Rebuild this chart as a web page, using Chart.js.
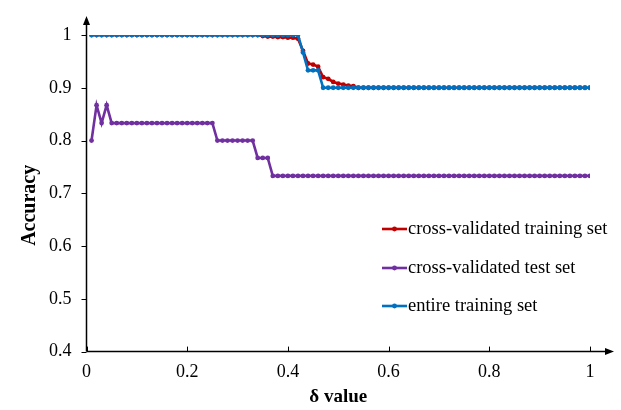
<!DOCTYPE html>
<html>
<head>
<meta charset="utf-8">
<script src="https://cdn.jsdelivr.net/npm/chart.js@4.4.1/dist/chart.umd.min.js"></script>
<style>
  html, body { margin: 0; padding: 0; background: #fff; }
  #wrap { width: 621px; height: 410px; position: relative; }
</style>
</head>
<body>
<div id="wrap"><canvas id="acc"></canvas></div>
<script>
// delta values (x)
var deltas = [
  0.01, 0.02, 0.03, 0.04, 0.05, 0.06, 0.07, 0.08, 0.09, 0.10,
  0.11, 0.12, 0.13, 0.14, 0.15, 0.16, 0.17, 0.18, 0.19, 0.20,
  0.21, 0.22, 0.23, 0.24, 0.25, 0.26, 0.27, 0.28, 0.29, 0.30,
  0.31, 0.32, 0.33, 0.34, 0.35, 0.36, 0.37, 0.38, 0.39, 0.40,
  0.41, 0.42, 0.43, 0.44, 0.45, 0.46, 0.47, 0.48, 0.49, 0.50,
  0.51, 0.52, 0.53, 0.54, 0.55, 0.56, 0.57, 0.58, 0.59, 0.60,
  0.61, 0.62, 0.63, 0.64, 0.65, 0.66, 0.67, 0.68, 0.69, 0.70,
  0.71, 0.72, 0.73, 0.74, 0.75, 0.76, 0.77, 0.78, 0.79, 0.80,
  0.81, 0.82, 0.83, 0.84, 0.85, 0.86, 0.87, 0.88, 0.89, 0.90,
  0.91, 0.92, 0.93, 0.94, 0.95, 0.96, 0.97, 0.98, 0.99, 1.00
];

var cvTrain = [
  1, 1, 1, 1, 1, 1, 1, 1, 1, 1,
  1, 1, 1, 1, 1, 1, 1, 1, 1, 1,
  1, 1, 1, 1, 1, 1, 1, 1, 1, 1,
  1, 1, 1, 1, 0.998, 0.997, 0.997, 0.996, 0.996, 0.995,
  0.995, 0.993, 0.97, 0.946, 0.944, 0.94, 0.92, 0.917, 0.911, 0.908,
  0.906, 0.904, 0.903, 0.9, 0.9, 0.9, 0.9, 0.9, 0.9, 0.9,
  0.9, 0.9, 0.9, 0.9, 0.9, 0.9, 0.9, 0.9, 0.9, 0.9,
  0.9, 0.9, 0.9, 0.9, 0.9, 0.9, 0.9, 0.9, 0.9, 0.9,
  0.9, 0.9, 0.9, 0.9, 0.9, 0.9, 0.9, 0.9, 0.9, 0.9,
  0.9, 0.9, 0.9, 0.9, 0.9, 0.9, 0.9, 0.9, 0.9, 0.9
];

var cvTest = [
  0.8, 0.867, 0.833, 0.867, 0.833, 0.833, 0.833, 0.833, 0.833, 0.833,
  0.833, 0.833, 0.833, 0.833, 0.833, 0.833, 0.833, 0.833, 0.833, 0.833,
  0.833, 0.833, 0.833, 0.833, 0.833, 0.8, 0.8, 0.8, 0.8, 0.8,
  0.8, 0.8, 0.8, 0.767, 0.767, 0.767, 0.733, 0.733, 0.733, 0.733,
  0.733, 0.733, 0.733, 0.733, 0.733, 0.733, 0.733, 0.733, 0.733, 0.733,
  0.733, 0.733, 0.733, 0.733, 0.733, 0.733, 0.733, 0.733, 0.733, 0.733,
  0.733, 0.733, 0.733, 0.733, 0.733, 0.733, 0.733, 0.733, 0.733, 0.733,
  0.733, 0.733, 0.733, 0.733, 0.733, 0.733, 0.733, 0.733, 0.733, 0.733,
  0.733, 0.733, 0.733, 0.733, 0.733, 0.733, 0.733, 0.733, 0.733, 0.733,
  0.733, 0.733, 0.733, 0.733, 0.733, 0.733, 0.733, 0.733, 0.733, 0.733
];

var entireTrain = [
  1, 1, 1, 1, 1, 1, 1, 1, 1, 1,
  1, 1, 1, 1, 1, 1, 1, 1, 1, 1,
  1, 1, 1, 1, 1, 1, 1, 1, 1, 1,
  1, 1, 1, 1, 1, 1, 1, 1, 1, 1,
  1, 1, 0.967, 0.933, 0.933, 0.933, 0.9, 0.9, 0.9, 0.9,
  0.9, 0.9, 0.9, 0.9, 0.9, 0.9, 0.9, 0.9, 0.9, 0.9,
  0.9, 0.9, 0.9, 0.9, 0.9, 0.9, 0.9, 0.9, 0.9, 0.9,
  0.9, 0.9, 0.9, 0.9, 0.9, 0.9, 0.9, 0.9, 0.9, 0.9,
  0.9, 0.9, 0.9, 0.9, 0.9, 0.9, 0.9, 0.9, 0.9, 0.9,
  0.9, 0.9, 0.9, 0.9, 0.9, 0.9, 0.9, 0.9, 0.9, 0.9
];

var seriesNames = ['cross-validated training set', 'cross-validated test set', 'entire training set'];
var xTicks = [0, 0.2, 0.4, 0.6, 0.8, 1];
var yTicks = [0.4, 0.5, 0.6, 0.7, 0.8, 0.9, 1];

var FONT = '"Liberation Serif", "Times New Roman", serif';

function pts(ys) {
  return deltas.map(function (x, i) { return { x: x, y: ys[i] }; });
}

function ds(label, ys, color, order) {
  return {
    label: label,
    data: pts(ys),
    borderColor: color,
    backgroundColor: color,
    borderWidth: 2.6,
    pointRadius: 2.4,
    pointBorderWidth: 0,
    pointHoverRadius: 2.4,
    order: order
  };
}

// axes with arrowheads, inner x ticks, y title and the legend box
var decor = {
  id: 'decor',
  afterDraw: function (chart) {
    var c = chart.ctx, a = chart.chartArea;
    var xs = chart.scales.x, ys = chart.scales.y;
    c.save();
    c.strokeStyle = '#000';
    c.fillStyle = '#000';
    c.lineWidth = 1.5;
    c.beginPath();
    c.moveTo(a.left, a.bottom);
    c.lineTo(a.left, 22);
    c.moveTo(a.left, a.bottom);
    c.lineTo(a.right + 18, a.bottom);
    c.stroke();
    // arrowheads
    c.beginPath();
    c.moveTo(a.left, 16);
    c.lineTo(a.left - 3.5, 25);
    c.lineTo(a.left + 3.5, 25);
    c.closePath();
    c.fill();
    c.beginPath();
    c.moveTo(a.right + 24, a.bottom);
    c.lineTo(a.right + 15, a.bottom - 3.5);
    c.lineTo(a.right + 15, a.bottom + 3.5);
    c.closePath();
    c.fill();
    // x ticks pointing up
    c.lineWidth = 1;
    xTicks.forEach(function (v) {
      var px = Math.round(xs.getPixelForValue(v)) + 0.5;
      c.beginPath();
      c.moveTo(px, a.bottom);
      c.lineTo(px, a.bottom - 5);
      c.stroke();
    });
    // y ticks pointing left
    yTicks.forEach(function (v) {
      var py = Math.round(ys.getPixelForValue(v)) + 0.5;
      c.beginPath();
      c.moveTo(a.left, py);
      c.lineTo(a.left - 5, py);
      c.stroke();
    });
    // y title
    c.save();
    c.translate(30, (a.top + a.bottom) / 2 + 12);
    c.rotate(-Math.PI / 2);
    c.font = 'bold 20px ' + FONT;
    c.textAlign = 'center';
    c.textBaseline = 'middle';
    c.fillText('Accuracy', 0, 0);
    c.restore();
    // legend
    var rows = [229, 268, 306];
    chart.data.datasets.forEach(function (d, i) {
      var y = rows[i];
      c.strokeStyle = d.borderColor;
      c.fillStyle = d.borderColor;
      c.lineWidth = 2.6;
      c.beginPath();
      c.moveTo(382, y);
      c.lineTo(407, y);
      c.stroke();
      c.beginPath();
      c.arc(394.5, y, 2.4, 0, Math.PI * 2);
      c.fill();
      c.fillStyle = '#000';
      c.font = '18.5px ' + FONT;
      c.textBaseline = 'middle';
      c.textAlign = 'left';
      c.fillText(d.label, 408, y);
    });
    c.restore();
  }
};

var ctx = document.getElementById('acc').getContext('2d');
var chart = new Chart(ctx, {
  type: 'line',
  data: {
    datasets: [
      ds(seriesNames[0], cvTrain, '#C00000', 1),
      ds(seriesNames[1], cvTest, '#7030A0', 2),
      ds(seriesNames[2], entireTrain, '#0070C0', 0)
    ]
  },
  options: {
    responsive: true,
    maintainAspectRatio: false,
    animation: false,
    layout: { padding: { top: 35, right: 31, left: 42, bottom: 2 } },
    plugins: {
      legend: { display: false },
      tooltip: { enabled: false }
    },
    scales: {
      x: {
        type: 'linear',
        min: 0,
        max: 1,
        afterBuildTicks: function (s) { s.ticks = xTicks.map(function (v) { return { value: v }; }); },
        ticks: {
          color: '#000',
          font: { family: FONT, size: 18 },
          padding: 2,
          maxRotation: 0,
          callback: function (v) { return String(+v.toFixed(1)); }
        },
        grid: { display: false },
        border: { display: false },
        title: {
          display: true,
          text: 'δ value',
          color: '#000',
          font: { family: FONT, size: 19, weight: 'bold' },
          padding: { top: 0, bottom: 0 }
        }
      },
      y: {
        min: 0.4,
        max: 1,
        afterBuildTicks: function (s) { s.ticks = yTicks.map(function (v) { return { value: v }; }); },
        ticks: {
          color: '#000',
          font: { family: FONT, size: 18 },
          padding: 7,
          callback: function (v) { return String(+v.toFixed(1)); }
        },
        grid: { display: false },
        border: { display: false }
      }
    }
  },
  plugins: [decor]
});
</script>
</body>
</html>
